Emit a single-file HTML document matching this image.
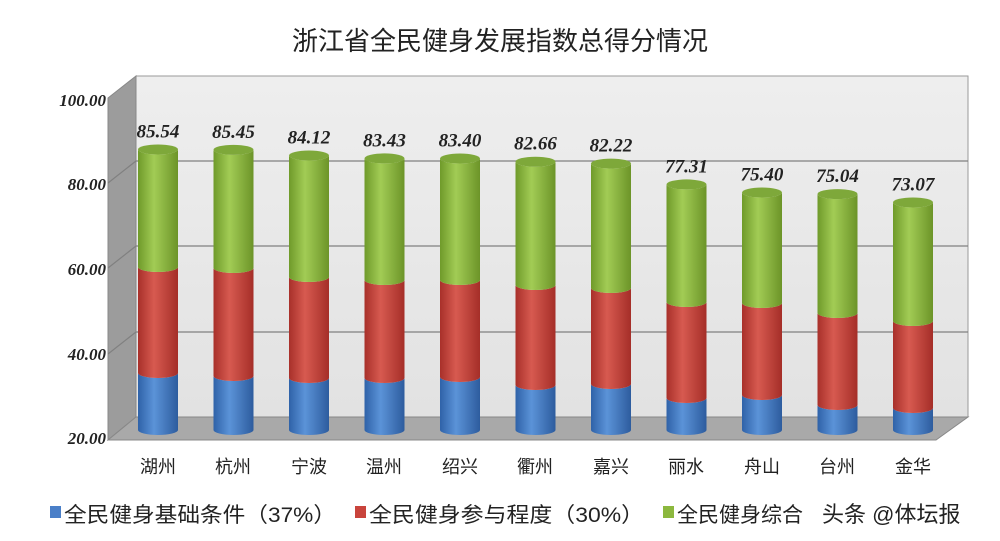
<!DOCTYPE html>
<html><head><meta charset="utf-8"><style>
body{margin:0;width:1000px;height:536px;background:#fff;overflow:hidden}
svg text{font-family:"Liberation Sans","Noto Sans CJK SC",sans-serif}
svg text.n{font-family:"Liberation Serif",serif;font-style:italic;font-weight:bold}
</style></head><body>
<svg id="s" width="1000" height="536" viewBox="0 0 1000 536" xmlns="http://www.w3.org/2000/svg">
<defs>
<linearGradient id="gb" x1="0" x2="1"><stop offset="0" stop-color="#2f62a8"/><stop offset=".4" stop-color="#5b93d8"/><stop offset="1" stop-color="#2d5c9e"/></linearGradient>
<linearGradient id="gr" x1="0" x2="1"><stop offset="0" stop-color="#a8302a"/><stop offset=".4" stop-color="#d75a50"/><stop offset="1" stop-color="#a52e28"/></linearGradient>
<linearGradient id="gg" x1="0" x2="1"><stop offset="0" stop-color="#6f9a2a"/><stop offset=".4" stop-color="#a2cc55"/><stop offset="1" stop-color="#6c9428"/></linearGradient>
<linearGradient id="wall" x1="0" y1="0" x2="0" y2="1"><stop offset="0" stop-color="#eeeeee"/><stop offset="1" stop-color="#e2e2e2"/></linearGradient>
</defs>
<text x="500" y="50" text-anchor="middle" font-size="26" fill="#222">浙江省全民健身发展指数总得分情况</text>
<polygon points="136,76 968,76 968,417 136,417" fill="url(#wall)" stroke="#9a9a9a"/>
<polygon points="108,98 136,76 136,417 108,440" fill="#9c9c9c" stroke="#888"/>
<polygon points="108,440 136,417 968,417 936,440" fill="#a9a9a9" stroke="#888"/>
<g stroke="#808080" stroke-width="1.2">
<line x1="136" y1="161" x2="968" y2="161"/><line x1="136" y1="246" x2="968" y2="246"/><line x1="136" y1="332" x2="968" y2="332"/>
<line x1="108" y1="183" x2="136" y2="161"/><line x1="108" y1="268" x2="136" y2="246"/><line x1="108" y1="354" x2="136" y2="332"/>
</g>
<g font-size="17" fill="#222" text-anchor="end">
<text class="n" x="106" y="106">100.00</text><text class="n" x="106" y="190">80.00</text><text class="n" x="106" y="275">60.00</text><text class="n" x="106" y="360">40.00</text><text class="n" x="106" y="444">20.00</text>
</g>
<g id="bars"></g>
<g font-size="18" fill="#222" text-anchor="middle">
<text x="158" y="473">湖州</text><text x="233" y="473">杭州</text><text x="309" y="473">宁波</text><text x="384" y="473">温州</text><text x="460" y="473">绍兴</text><text x="535" y="473">衢州</text><text x="611" y="473">嘉兴</text><text x="686" y="473">丽水</text><text x="762" y="473">舟山</text><text x="837" y="473">台州</text><text x="913" y="473">金华</text>
</g>
<g font-size="21" fill="#222">
<rect x="50" y="506" width="11" height="12" fill="#4a7fc8"/><text x="64" y="522" textLength="272" lengthAdjust="spacingAndGlyphs">全民健身基础条件（37%）</text>
<rect x="355" y="506" width="11" height="12" fill="#c9443c"/><text x="369" y="522" textLength="275" lengthAdjust="spacingAndGlyphs">全民健身参与程度（30%）</text>
<rect x="663" y="506" width="11" height="12" fill="#8cb83e"/><text x="677" y="522">全民健身综合</text>
<text x="822" y="522" font-size="22">头条 @体坛报</text>
</g>
</svg>
<script>
var d=[[85.54,373,267],[85.45,376,268],[84.12,378,277],[83.43,378,280],[83.40,377,280],[82.66,385,285],[82.22,384,288],[77.31,398,302],[75.40,395,303],[75.04,405,313],[73.07,408,321]];
var g=document.getElementById('bars'),h='';
d.forEach(function(r,i){var cx=158+i*75.5,x=cx-20,w=40,bot=430,top=428-(r[0]-20)*4.25,ry=5;
function seg(y1,y2,f){return '<path d="M'+x+','+y1+' L'+x+','+y2+' A20,'+ry+' 0 0 0 '+(x+w)+','+y2+' L'+(x+w)+','+y1+' A20,'+ry+' 0 0 1 '+x+','+y1+'Z" fill="url(#'+f+')"/>';}
h+=seg(r[1],bot,'gb')+seg(r[2],r[1],'gr')+seg(top,r[2],'gg');
h+='<ellipse cx="'+cx+'" cy="'+top+'" rx="20" ry="'+ry+'" fill="#7ea83a"/>';
h+='<text class="n" x="'+cx+'" y="'+(top-12)+'" text-anchor="middle" font-size="19" fill="#222">'+r[0].toFixed(2)+'</text>';});
g.innerHTML=h;
</script>
</body></html>
